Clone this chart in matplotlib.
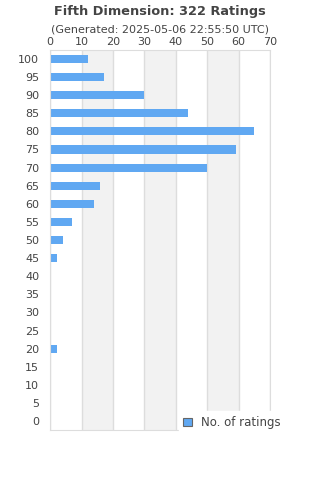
import matplotlib
matplotlib.use("Agg")
import matplotlib.pyplot as plt

# rating buckets and number of ratings per bucket
ratings = [100, 95, 90, 85, 80, 75, 70, 65, 60, 55, 50, 45, 40, 35, 30, 25, 20, 15, 10, 5, 0]
counts = [12, 17, 30, 44, 65, 59, 50, 16, 14, 7, 4, 2, 0, 0, 0, 0, 2, 0, 0, 0, 0]
x_ticks = [0, 10, 20, 30, 40, 50, 60, 70]

title = "Fifth Dimension: 322 Ratings"
subtitle = "(Generated: 2025-05-06 22:55:50 UTC)"

text_color = "#444444"
bar_color = "#60a8f2"
grid_color = "#dddddd"

fig = plt.figure(figsize=(3.2, 4.8), dpi=100)
ax = fig.add_axes([0.157, 0.104, 0.687, 0.792])

# alternating background bands
for i in range(len(x_ticks) - 1):
    if i % 2 == 1:
        ax.axvspan(x_ticks[i], x_ticks[i + 1], color="#f2f2f2", zorder=0, lw=0)
for t in x_ticks:
    ax.axvline(t, color=grid_color, lw=1, zorder=1)

pos = list(range(len(ratings)))
ax.barh(pos, counts, height=0.45, color=bar_color, zorder=2, label="No. of ratings")

ax.set_xlim(0, 70)
ax.set_ylim(len(ratings) - 0.5, -0.5)
ax.set_xticks(x_ticks)
ax.set_yticks(pos)
ax.set_yticklabels([str(r) for r in ratings])
ax.xaxis.tick_top()
ax.tick_params(axis="both", length=0, labelsize=8, colors=text_color, pad=2)
ax.tick_params(axis="y", pad=8)
for s in ax.spines.values():
    s.set_color(grid_color)

fig.text(0.5, 0.976, title, ha="center", va="center", fontsize=9.3,
         fontweight="bold", color=text_color)
fig.text(0.5, 0.938, subtitle, ha="center", va="center", fontsize=8,
         color=text_color)

leg = fig.legend(loc="center", bbox_to_anchor=(0.725, 0.12), frameon=True,
                 fontsize=8.5, handlelength=0.7, handleheight=0.7,
                 handletextpad=0.8, borderpad=0.4)
leg.get_frame().set_facecolor("white")
leg.get_frame().set_edgecolor("white")
leg.get_frame().set_alpha(1)
for h in leg.legend_handles:
    h.set_edgecolor("#666666")
    h.set_linewidth(0.8)
for t in leg.get_texts():
    t.set_color(text_color)

fig.savefig("out.png", dpi=100)
